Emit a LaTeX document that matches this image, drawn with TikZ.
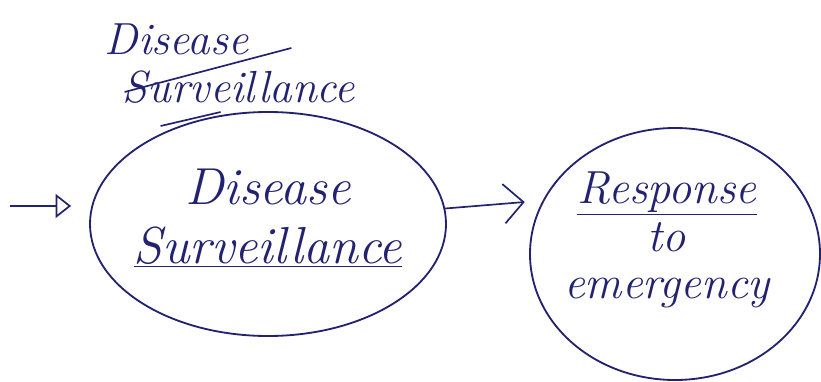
\documentclass[tikz,border=0pt]{standalone}
\usepackage{xcolor}
\usepackage{tikz}
\usetikzlibrary{calc}
\usetikzlibrary{arrows.meta}
\usetikzlibrary{shapes}
\usetikzlibrary{shapes.geometric}
\definecolor{ink}{RGB}{34,34,112}
\tikzset{>=latex}
\tikzstyle{blob} = [ellipse, draw=ink, line width=1.3pt, inner sep=0]
\tikzstyle{words} = [text=ink, align=center, inner sep=0]
\tikzstyle{pen} = [line width=1.2pt, draw=ink]

\begin{document}
\begin{tikzpicture}
\useasboundingbox (0,0) rectangle (20.525,-9.525);
%\node [draw=none, align=center] at (5,-1) {struck out};
\node [draw=none, words, align=left, font=\itshape\fontsize{32}{38}\selectfont] (T) at (5.75, -1.6) {Disease\\[-4pt]\hspace{0.45cm}Surveillance};
\node [blob, minimum width=8.9cm, minimum height=5.6cm,
  label={[words, font=\itshape\fontsize{37}{44}\selectfont, yshift=0.15cm]center:Disease\\[-2pt]\underline{Surveillance}}] (DS) at (6.7, -5.6) {};
\node [blob, minimum width=7.25cm, minimum height=6.3cm,
  label={[words, font=\itshape\fontsize{33}{34}\selectfont, yshift=0.35cm, xshift=-0.2cm]center:\underline{Response}\\to\\emergency}] (RE) at (16.875, -6.35) {};
\coordinate (in) at (0.25, -5.15);
\draw [pen] ($(T.south west)+(0.5,0.3)$) to ($(T.north east)+(-1.6,-0.6)$);
\draw [pen] ($(T.south west)+(1.4,-0.55)$) to ($(T.south west)+(2.9,-0.2)$);
\draw [pen, -{Triangle[open, length=11pt, width=17pt]}, shorten >=0.45cm] (in) to (in -| DS.west);
\draw [pen, -{Straight Barb[length=14pt, width=28pt]}, shorten >=0.45cm] (DS.5) to (RE.158);
\end{tikzpicture}
\end{document}
